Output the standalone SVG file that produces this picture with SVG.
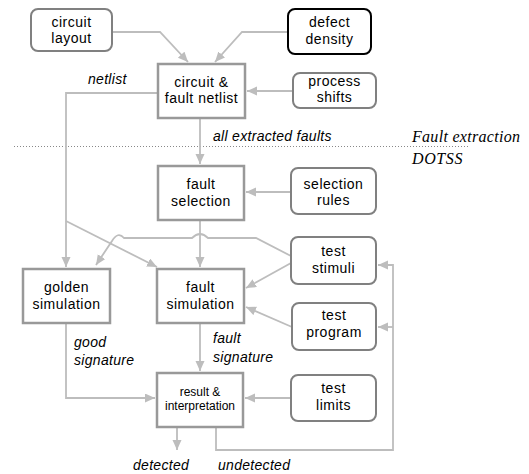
<svg xmlns="http://www.w3.org/2000/svg" width="529" height="474" viewBox="0 0 529 474">
<defs>
<marker id="ah" markerUnits="userSpaceOnUse" markerWidth="11" markerHeight="10" refX="10" refY="4.5" orient="auto">
<path d="M0,0 L10,4.5 L0,9 z" fill="#bdbdbd"/>
</marker>
</defs>
<style>
.box{fill:#fff;stroke:#999;stroke-width:2.5}
.rbox{fill:#fff;stroke:#808080;stroke-width:2}
.bbox{fill:#fff;stroke:#000;stroke-width:2}
.t{font-family:"Liberation Sans",Arial,sans-serif;font-size:14px;letter-spacing:0.5px;text-anchor:middle;fill:#000}
.ts{font-family:"Liberation Sans",Arial,sans-serif;font-size:12px;text-anchor:middle;fill:#000}
.lbl{font-family:"Liberation Sans",Arial,sans-serif;font-size:14px;font-style:italic;letter-spacing:0.3px;fill:#000}
.ttl{font-family:"Liberation Serif","Times New Roman",serif;font-size:16px;font-style:italic;fill:#000}
.c{fill:none;stroke:#bdbdbd;stroke-width:1.8}
.ca{fill:none;stroke:#bdbdbd;stroke-width:1.8;marker-end:url(#ah)}
</style>
<rect width="529" height="474" fill="#fff"/>
<line x1="14" y1="146.5" x2="470" y2="146.5" stroke="#888" stroke-width="1" stroke-dasharray="1,2"/>
<text class="ttl" x="412" y="142" letter-spacing="0.3">Fault extraction</text>
<text class="ttl" x="412" y="164" letter-spacing="0.6">DOTSS</text>
<g id="connectors">
<path class="ca" d="M112,32 L160,32 L188,62"/>
<path class="ca" d="M288,32 L242,32 L215,62"/>
<path class="ca" d="M293,91 L247,91"/>
<path class="ca" d="M158,93 L66,93 L66,267"/>
<path class="ca" d="M66,221 L157,267"/>
<path class="ca" d="M200,118 L200,164"/>
<path class="ca" d="M291,192 L246,192"/>
<path class="ca" d="M200,220 L200,267"/>
<path class="ca" d="M291,256 L256,238 L208,238 Q200,230 192,238 L124,238 Q118,231 112,241 L96,265"/>
<path class="ca" d="M291,263 L246,288"/>
<path class="ca" d="M292,327 L246,307"/>
<path class="ca" d="M291,398 L245,398"/>
<path class="ca" d="M200,323 L200,371"/>
<path class="ca" d="M66,323 L66,398 L155,398"/>
<path class="ca" d="M177,427 L177,450"/>
<path class="ca" d="M216,427 L216,450 L393,450 L393,265 L378,265"/>
<path class="ca" d="M393,327 L378,327"/>
</g>
<g id="circuit-layout"><rect class="rbox" x="31" y="9" width="81" height="42" rx="7"/><text class="t" x="71.5" y="27">circuit</text><text class="t" x="71.5" y="43">layout</text></g>
<g id="defect-density"><rect class="bbox" x="288" y="9" width="83" height="45" rx="7"/><text class="t" x="329.5" y="27">defect</text><text class="t" x="329.5" y="44">density</text></g>
<g id="circuit-fault-netlist"><rect class="box" x="158" y="64" width="87" height="54"/><text class="t" x="201.5" y="87">circuit &amp;</text><text class="t" x="201.5" y="103">fault netlist</text></g>
<g id="process-shifts"><rect class="rbox" x="293" y="73" width="83" height="35" rx="7"/><text class="t" x="334.5" y="86">process</text><text class="t" x="334.5" y="102">shifts</text></g>
<g id="fault-selection"><rect class="box" x="158" y="166" width="86" height="54"/><text class="t" x="201" y="189">fault</text><text class="t" x="201" y="206">selection</text></g>
<g id="selection-rules"><rect class="rbox" x="291" y="168" width="85" height="46" rx="7"/><text class="t" x="333.5" y="189">selection</text><text class="t" x="333.5" y="205">rules</text></g>
<g id="test-stimuli"><rect class="rbox" x="291" y="237" width="85" height="47" rx="7"/><text class="t" x="333.5" y="256">test</text><text class="t" x="333.5" y="273">stimuli</text></g>
<g id="golden-simulation"><rect class="box" x="23" y="269" width="87" height="54"/><text class="t" x="66.5" y="292">golden</text><text class="t" x="66.5" y="309">simulation</text></g>
<g id="fault-simulation"><rect class="box" x="157" y="269" width="87" height="54"/><text class="t" x="200.5" y="292">fault</text><text class="t" x="200.5" y="309">simulation</text></g>
<g id="test-program"><rect class="rbox" x="292" y="303" width="84" height="47" rx="7"/><text class="t" x="334" y="320">test</text><text class="t" x="334" y="337">program</text></g>
<g id="test-limits"><rect class="rbox" x="291" y="375" width="85" height="46" rx="7"/><text class="t" x="333.5" y="393">test</text><text class="t" x="333.5" y="410">limits</text></g>
<g id="result-interpretation"><rect class="box" x="157" y="373" width="86" height="54"/><text class="ts" x="200" y="396">result &amp;</text><text class="ts" x="200" y="410">interpretation</text></g>
<g id="labels">
<text class="lbl" x="88" y="84">netlist</text>
<text class="lbl" x="213" y="141">all extracted faults</text>
<text class="lbl" x="74" y="347">good</text>
<text class="lbl" x="74" y="365">signature</text>
<text class="lbl" x="213" y="343">fault</text>
<text class="lbl" x="213" y="362">signature</text>
<text class="lbl" x="133" y="470">detected</text>
<text class="lbl" x="218" y="470">undetected</text>
</g>
</svg>
